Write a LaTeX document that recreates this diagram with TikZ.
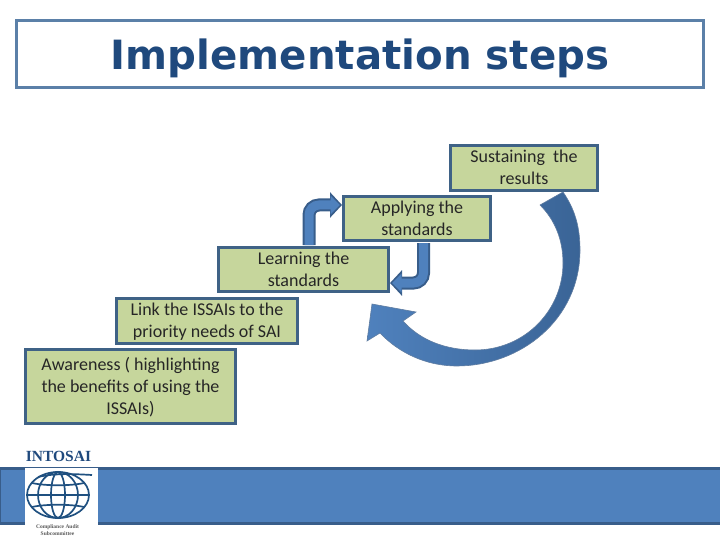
\documentclass[tikz,border=0pt]{standalone}
\usepackage{fontspec}
\setmainfont{Carlito}
\newfontfamily\titlefont{DejaVu Sans}
\newfontfamily\logofont{Liberation Serif}
\usetikzlibrary{arrows.meta}
\definecolor{boxfill}{HTML}{C6D69C}
\definecolor{boxline}{HTML}{3F6286}
\definecolor{titleline}{HTML}{5B80A8}
\definecolor{titleink}{HTML}{1F497D}
\definecolor{blueA}{HTML}{4F81BD}
\definecolor{blueB}{HTML}{385D8A}
\definecolor{blueC}{HTML}{3A6496}
\definecolor{globeink}{HTML}{1F5080}
\newcommand{\steplines}[1]{\raisebox{-1.2pt}[\height][\depth]{\begin{tabular}{@{}c@{}}#1\end{tabular}}}
\tikzset{
  stepbox/.style={draw=boxline,line width=3pt,fill=boxfill,inner sep=0pt,
    font=\fontsize{18}{22}\selectfont,text=black!85},
  bendout/.style={draw=blueB,line width=13pt,rounded corners=10pt,
    -{Triangle[length=12pt,width=25pt,color=blueB]}},
  bendin/.style={draw=blueA,line width=9pt,rounded corners=10pt,shorten >=2pt,
    -{Triangle[length=9.5pt,width=18pt,color=blueA]}},
  globeline/.style={draw=globeink,line width=1.7pt}
}
\begin{document}
\begin{tikzpicture}[x=1pt,y=-1pt]
\useasboundingbox (0,0) rectangle (720,540);
% title
\node[draw=titleline,line width=3pt,fill=white,minimum width=687pt,minimum height=67pt,inner sep=0pt,
  font=\titlefont\bfseries\fontsize{40.3}{44}\selectfont,text=titleink] (title) at (360,54.5) {\raisebox{-4pt}[\height][\depth]{Implementation steps}};
% band
\node[draw=blueB,line width=3pt,fill=blueA,minimum width=723pt,minimum height=55pt,inner sep=0pt] (band) at (360.5,495.5) {};
% boxes
\node[stepbox,minimum width=147pt,minimum height=45pt] (sustain) at (524,168) {\steplines{Sustaining\ \ the\\results}};
\node[stepbox,minimum width=147pt,minimum height=44pt] (apply) at (417,218.5) {\steplines{Applying the\\standards}};
\node[stepbox,minimum width=170pt,minimum height=44pt] (learn) at (303.5,269.5) {\steplines{Learning the\\standards}};
\node[stepbox,minimum width=181pt,minimum height=45pt] (link) at (207,321) {\steplines{Link the ISSAIs to the\\priority needs of SAI}};
\node[stepbox,minimum width=210pt,minimum height=74pt] (aware) at (130.5,386.5) {\steplines{Awareness ( highlighting\\the benefits of using the\\ISSAIs)}};
% bent arrows
\coordinate (a1s) at (309,245);
\coordinate (a1e) at (342,205);
\coordinate (a2s) at (423.5,243);
\coordinate (a2e) at (390,283);
\draw[bendout] (a1s) |- (a1e);
\draw[bendin] (a1s) |- (a1e);
\draw[bendout] (a2s) |- (a2e);
\draw[bendin] (a2s) |- (a2e);
% big curved arrow
\path[draw=blueB!80,line width=0.6pt,left color=blueA,middle color=blueA,right color=blueC]
  (563,192) .. controls (574,208) and (580,225) .. (580,250)
  .. controls (580,320) and (520,366) .. (457,366)
  .. controls (425,366) and (398,352) .. (380,333)
  -- (367,341) -- (372,304) -- (416,312) -- (403,321)
  .. controls (420,340) and (445,350) .. (475,350)
  .. controls (525,350) and (563,310) .. (563,263)
  .. controls (563,240) and (555,220) .. (540,205)
  -- cycle;
% logo
\path[fill=white] (25,468) rectangle (98,540);
\node[font=\logofont\bfseries\fontsize{15.5}{16}\selectfont,text=titleink,inner sep=0pt] (intosai) at (58.5,456) {INTOSAI};
\coordinate (g) at (58,495);
\draw[globeline] (g) ellipse [x radius=31pt,y radius=23pt];
\draw[globeline] (g) ellipse [x radius=20pt,y radius=23pt];
\draw[globeline] (g) ellipse [x radius=7pt,y radius=23pt];
\draw[globeline] (27,495) -- (89,495);
\draw[globeline] (32,483) .. controls (45,486) and (71,486) .. (84,483);
\draw[globeline] (32,507) .. controls (45,504) and (71,504) .. (84,507);
\draw[globeline] (38,477) .. controls (55,473) and (75,474) .. (92,475);
\node[font=\logofont\bfseries\fontsize{5.5}{6.5}\selectfont,text=black!65,align=center,inner sep=0pt] (sub) at (57.5,530) {Compliance Audit\\Subcommittee};
\end{tikzpicture}
\end{document}
